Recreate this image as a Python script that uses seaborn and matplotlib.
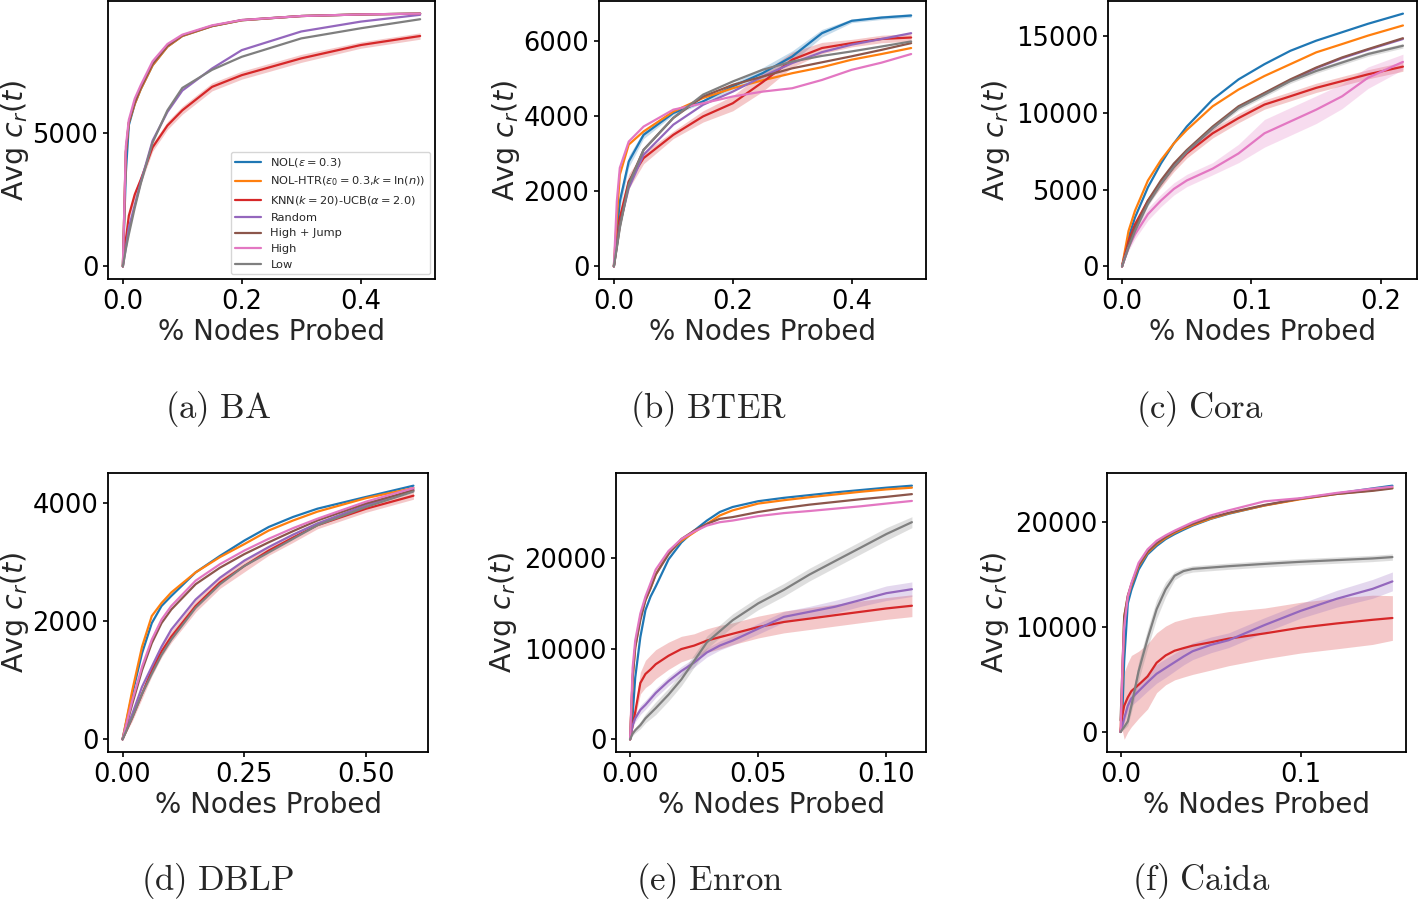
import numpy as np
import pandas as pd
import matplotlib
matplotlib.use("Agg")
import matplotlib.pyplot as plt
from matplotlib.ticker import MultipleLocator
import seaborn as sns

# --- methods / colours ---
methods = [r"NOL($\epsilon = 0.3$)", r"NOL-HTR($\epsilon_0 = 0.3$,$k = \ln(n)$)",
           r"KNN($k = 20$)-UCB($\alpha = 2.0$)", "Random", "High + Jump", "High", "Low"]
tab = sns.color_palette("tab10")
colors = [tab[0], tab[1], tab[3], tab[4], tab[5], tab[6], tab[7]]

# --- (a) BA ---
ba_x = [0, 0.005, 0.01, 0.02, 0.03, 0.05, 0.075, 0.1, 0.15, 0.2, 0.3, 0.4, 0.5]
ba_nol = [0, 3500, 5300, 6100, 6650, 7550, 8250, 8650, 9020, 9240, 9400, 9460, 9490]
ba_htr = [0, 4300, 5400, 6100, 6650, 7550, 8250, 8650, 9020, 9240, 9400, 9460, 9490]
ba_knn = [0, 1000, 1900, 2700, 3250, 4470, 5290, 5860, 6740, 7180, 7810, 8310, 8650]
ba_random = [0, 700, 1450, 2300, 3150, 4720, 5800, 6600, 7430, 8120, 8820, 9190, 9446]
ba_highjump = [0, 4300, 5400, 6150, 6700, 7600, 8280, 8670, 9030, 9250, 9400, 9460, 9490]
ba_high = [0, 4500, 5500, 6300, 6800, 7700, 8350, 8700, 9050, 9250, 9400, 9460, 9490]
ba_low = [0, 650, 1200, 2200, 3100, 4650, 5860, 6700, 7380, 7870, 8560, 8940, 9280]
ba_knn_band = [0, 100, 150, 150, 150, 150, 150, 150, 150, 150, 150, 120, 120]

# --- (b) BTER ---
bt_x = [0, 0.005, 0.01, 0.025, 0.05, 0.1, 0.15, 0.2, 0.25, 0.3, 0.35, 0.4, 0.45, 0.5]
bt_nol = [0, 900, 1730, 2790, 3500, 4080, 4390, 4790, 5140, 5585, 6205, 6534, 6620, 6675]
bt_htr = [0, 1290, 2440, 3240, 3590, 4120, 4480, 4740, 4950, 5140, 5300, 5500, 5650, 5810]
bt_knn = [0, 600, 1290, 2260, 2880, 3500, 3990, 4340, 4900, 5500, 5810, 5940, 6050, 6090]
bt_random = [0, 550, 1110, 2080, 2970, 3770, 4300, 4650, 5050, 5410, 5700, 5900, 6050, 6205]
bt_highjump = [0, 520, 1060, 2220, 3100, 3950, 4520, 4830, 5050, 5270, 5430, 5590, 5760, 5940]
bt_high = [0, 1730, 2620, 3320, 3720, 4170, 4340, 4520, 4650, 4740, 4960, 5230, 5420, 5650]
bt_low = [0, 500, 1020, 2170, 3100, 3950, 4570, 4920, 5230, 5450, 5600, 5720, 5850, 5985]
bt_nol_band = [0, 200, 200, 150, 100, 50, 50, 80, 150, 150, 100, 50, 50, 50]
bt_knn_band = [0, 100, 200, 200, 150, 100, 150, 200, 250, 200, 150, 100, 100, 100]

# --- (c) Cora ---
co_x = [0, 0.005, 0.01, 0.02, 0.03, 0.04, 0.05, 0.07, 0.09, 0.11, 0.13, 0.15, 0.17, 0.19, 0.217]
co_nol = [0, 1860, 3180, 5150, 6690, 8000, 9100, 10860, 12170, 13160, 14030, 14690, 15240, 15790, 16450]
co_htr = [0, 2300, 3620, 5590, 6910, 8000, 8880, 10420, 11510, 12390, 13160, 13930, 14470, 15020, 15680]
co_knn = [0, 1640, 2740, 4280, 5370, 6470, 7350, 8660, 9650, 10530, 11070, 11620, 12060, 12500, 13000]
co_random = [0, 1300, 2400, 4150, 5450, 6550, 7450, 9000, 10350, 11250, 12100, 12900, 13550, 14100, 14800]
co_highjump = [0, 1430, 2520, 4280, 5590, 6690, 7570, 9100, 10420, 11290, 12170, 12940, 13600, 14140, 14850]
co_high = [0, 1210, 2080, 3400, 4280, 5040, 5590, 6360, 7350, 8660, 9430, 10200, 11070, 12280, 13310]
co_low = [0, 1210, 2300, 4060, 5370, 6470, 7460, 8990, 10310, 11180, 12060, 12720, 13270, 13820, 14360]
co_knn_band = [0, 100, 150, 200, 250, 300, 300, 300, 300, 300, 300, 300, 300, 300, 300]
co_high_band = [0, 200, 300, 400, 400, 400, 400, 400, 600, 900, 900, 900, 800, 700, 500]
co_low_band = [0, 100, 150, 150, 150, 150, 150, 150, 150, 150, 150, 150, 150, 150, 150]

# --- (d) DBLP ---
db_x = [0, 0.02, 0.04, 0.06, 0.08, 0.1, 0.15, 0.2, 0.25, 0.3, 0.35, 0.4, 0.5, 0.597]
db_nol = [0, 770, 1460, 1970, 2260, 2430, 2830, 3110, 3370, 3600, 3770, 3910, 4110, 4300]
db_htr = [0, 830, 1570, 2090, 2310, 2490, 2830, 3090, 3310, 3540, 3710, 3860, 4090, 4260]
db_knn = [0, 370, 770, 1170, 1490, 1740, 2260, 2660, 2940, 3200, 3420, 3630, 3910, 4130]
db_random = [0, 430, 890, 1230, 1570, 1860, 2370, 2740, 3030, 3260, 3470, 3660, 3970, 4230]
db_highjump = [0, 600, 1170, 1630, 1970, 2200, 2630, 2910, 3140, 3340, 3530, 3710, 4000, 4220]
db_high = [0, 660, 1230, 1690, 2030, 2260, 2690, 2970, 3200, 3400, 3580, 3740, 4030, 4260]
db_low = [0, 370, 770, 1110, 1430, 1690, 2230, 2630, 2940, 3170, 3400, 3630, 3940, 4200]
db_knn_band = [0, 60, 80, 100, 100, 100, 100, 100, 100, 80, 80, 60, 60, 60]

# --- (e) Enron ---
en_x = [0, 0.001, 0.002, 0.004, 0.006, 0.008, 0.01, 0.015, 0.02, 0.025, 0.03, 0.035,
        0.04, 0.05, 0.06, 0.07, 0.08, 0.09, 0.1, 0.11]
en_nol = [0, 2680, 6780, 11250, 14230, 15720, 16830, 19810, 21670, 22980, 24090, 25030,
          25580, 26220, 26590, 26890, 27190, 27450, 27710, 27930]
en_htr = [0, 6780, 10130, 13480, 15340, 16650, 18140, 20560, 21860, 22790, 23720, 24650,
          25210, 25960, 26330, 26660, 26960, 27260, 27520, 27710]
en_knn = [0, 1560, 3000, 6200, 7200, 7700, 8270, 9200, 9940, 10320, 10870, 11250,
          11620, 12360, 12920, 13290, 13670, 14040, 14410, 14710]
en_random = [0, 1560, 2310, 3240, 3800, 4450, 5100, 6410, 7520, 8450, 9570, 10320,
             10870, 12180, 13480, 14040, 14600, 15340, 16090, 16530]
en_highjump = [0, 6780, 10130, 13110, 15340, 16650, 18140, 20370, 22050, 22980, 23720, 24280,
               24470, 25030, 25470, 25840, 26140, 26440, 26700, 27000]
en_high = [0, 7890, 10870, 13850, 15720, 17200, 18690, 20740, 22050, 22870, 23540, 23910,
           24090, 24580, 24910, 25140, 25400, 25660, 25960, 26250]
en_low = [0, 630, 1000, 1560, 2310, 2870, 3430, 4920, 6590, 8640, 10690, 11900,
          13110, 14970, 16460, 18140, 19630, 21110, 22600, 23910]
en_knn_band = [0, 300, 600, 1200, 1500, 1600, 1600, 1500, 1400, 1300, 1300, 1300,
               1200, 1200, 1200, 1200, 1200, 1200, 1200, 1200]
en_random_band = [0, 300, 400, 500, 500, 500, 500, 500, 500, 500, 500, 500,
                  500, 600, 600, 600, 700, 700, 800, 800]
en_low_band = [0, 200, 300, 400, 500, 600, 700, 700, 700, 700, 700, 700,
               700, 700, 700, 700, 700, 700, 700, 600]

# --- (f) Caida ---
ca_x = [0, 0.001, 0.002, 0.004, 0.006, 0.01, 0.015, 0.02, 0.025, 0.03, 0.035, 0.04,
        0.05, 0.06, 0.08, 0.1, 0.12, 0.14, 0.151]
ca_nol = [0, 1940, 6770, 12260, 13550, 15480, 16940, 17740, 18390, 18870, 19290, 19680,
          20320, 20810, 21610, 22260, 22740, 23230, 23490]
ca_htr = [0, 5160, 10970, 12900, 14000, 15810, 17100, 17900, 18500, 19000, 19400, 19750,
          20350, 20850, 21600, 22200, 22700, 23050, 23290]
ca_knn = [0, 1600, 2500, 3300, 3900, 4500, 5300, 6600, 7300, 7750, 8000, 8230,
          8550, 8900, 9400, 9950, 10350, 10700, 10870]
ca_random = [0, 600, 1300, 2500, 3200, 3900, 4750, 5550, 6100, 6650, 7200, 7700,
             8300, 8750, 10200, 11550, 12700, 13650, 14360]
ca_highjump = [1100, 6000, 11000, 13000, 14100, 15900, 17200, 18000, 18600, 19100, 19500, 19850,
               20450, 20900, 21650, 22250, 22700, 23000, 23230]
ca_high = [0, 6130, 10000, 12900, 14190, 16130, 17420, 18230, 18750, 19200, 19600, 20000,
           20650, 21130, 22000, 22300, 22800, 23200, 23390]
ca_low = [0, 250, 480, 1000, 2500, 5800, 8900, 11700, 13600, 14900, 15350, 15550,
          15680, 15810, 16030, 16230, 16390, 16550, 16680]
ca_knn_band = [0, 1500, 3200, 3300, 3400, 3200, 3100, 2850, 2800, 2780, 2760, 2740,
               2650, 2580, 2420, 2420, 2420, 2350, 2130]
ca_random_band = [0, 300, 400, 600, 700, 800, 850, 900, 900, 850, 800, 800,
                  750, 700, 700, 700, 800, 900, 900]
ca_low_band = [0, 100, 200, 400, 600, 900, 900, 900, 700, 400, 300, 300,
               300, 300, 300, 300, 300, 300, 300]

# --- style ---
sns.set_style("ticks")
plt.rcParams['font.family'] = ['DejaVu Sans']
plt.rcParams['axes.edgecolor'] = 'black'
plt.rcParams['axes.linewidth'] = 1.3
plt.rcParams['xtick.color'] = 'black'
plt.rcParams['ytick.color'] = 'black'
plt.rcParams['xtick.labelsize'] = 18.5
plt.rcParams['ytick.labelsize'] = 18.5
plt.rcParams['xtick.major.width'] = 1.2
plt.rcParams['ytick.major.width'] = 1.2

W, H = 1418, 902
fig = plt.figure(figsize=(W / 100, H / 100), dpi=100)

# caption, x, series, bands, x step, y step, axes box (px: left, top, right, bottom), ylabel offset, caption centre
panels = [
    ("(a)\ BA", ba_x, [ba_nol, ba_htr, ba_knn, ba_random, ba_highjump, ba_high, ba_low],
     {2: ba_knn_band}, 0.2, 5000, (108, 1, 435, 279), 93, (218, 409)),
    ("(b)\ BTER", bt_x, [bt_nol, bt_htr, bt_knn, bt_random, bt_highjump, bt_high, bt_low],
     {0: bt_nol_band, 2: bt_knn_band}, 0.2, 2000, (599, 1, 926, 279), 93, (709, 409)),
    ("(c)\ Cora", co_x, [co_nol, co_htr, co_knn, co_random, co_highjump, co_high, co_low],
     {2: co_knn_band, 5: co_high_band, 6: co_low_band}, 0.1, 5000, (1108, 1, 1417, 279), 112, (1200, 409)),
    ("(d)\ DBLP", db_x, [db_nol, db_htr, db_knn, db_random, db_highjump, db_high, db_low],
     {2: db_knn_band}, 0.25, 2000, (108, 473, 428, 752), 93, (217, 881)),
    ("(e)\ Enron", en_x, [en_nol, en_htr, en_knn, en_random, en_highjump, en_high, en_low],
     {2: en_knn_band, 3: en_random_band, 6: en_low_band}, 0.05, 10000, (616, 473, 926, 752), 113, (709, 881)),
    ("(f)\ Caida", ca_x, [ca_nol, ca_htr, ca_knn, ca_random, ca_highjump, ca_high, ca_low],
     {2: ca_knn_band, 3: ca_random_band, 6: ca_low_band}, 0.1, 10000, (1107, 473, 1406, 752), 112, (1201, 881)),
]

for i, (cap, xs, series, bands, xstep, ystep, box, yoff, cpos) in enumerate(panels):
    l, t, r, b = box
    ax = fig.add_axes([l / W, 1 - b / H, (r - l) / W, (b - t) / H])

    # shaded bands first
    for k, hw in bands.items():
        y = np.array(series[k], dtype=float)
        hw = np.array(hw, dtype=float)
        ax.fill_between(xs, y - hw, y + hw, color=colors[k], alpha=0.25, lw=0)

    rows = []
    for m, ys in zip(methods, series):
        for xv, yv in zip(xs, ys):
            rows.append((xv, yv, m))
    df = pd.DataFrame(rows, columns=['x', 'y', 'method'])
    sns.lineplot(data=df, x='x', y='y', hue='method', hue_order=methods, palette=colors,
                 estimator=None, sort=False, legend=False, lw=1.6, ax=ax)

    ax.xaxis.set_major_locator(MultipleLocator(xstep))
    ax.yaxis.set_major_locator(MultipleLocator(ystep))
    ax.set_xlabel('% Nodes Probed', fontsize=20, va='center')
    ax.set_ylabel(r'Avg $c_r(t)$', fontsize=20.5, va='center')
    ax.xaxis.set_label_coords(0.5, -53 / (b - t))
    ax.yaxis.set_label_coords(-yoff / (r - l), 0.5)

    if i == 0:
        ax.legend(ax.get_lines()[:7], methods, loc='lower right', fontsize=8.2,
                  handlelength=2.3, framealpha=0.8, borderaxespad=0.4)

    fig.text(cpos[0] / W, 1 - cpos[1] / H, r"$\mathrm{" + cap + "}$", fontsize=25,
             math_fontfamily='cm', ha='center', va='center')

fig.savefig('out.png', dpi=100)
